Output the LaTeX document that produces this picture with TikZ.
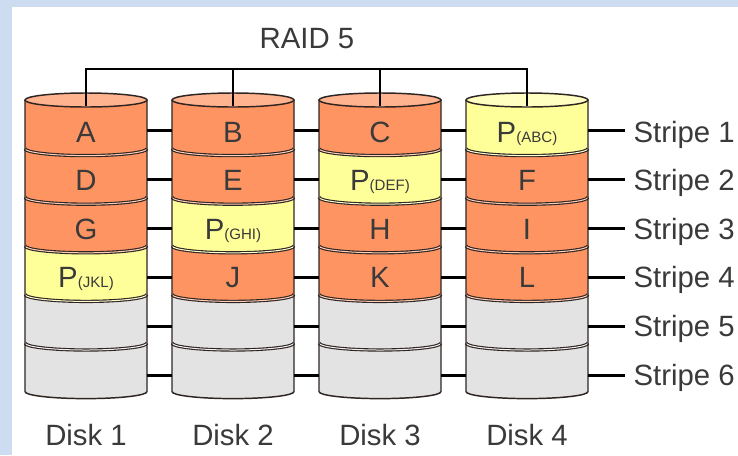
\documentclass[tikz,border=0pt]{standalone}
\usepackage{fontspec}
\setmainfont{Liberation Sans}

\definecolor{framebg}{HTML}{CDDCF1}
\definecolor{ink}{HTML}{3A3A3A}
\definecolor{edge}{HTML}{2E2522}
\definecolor{layo}{HTML}{FF9463}
\definecolor{topo}{HTML}{FFB38F}
\definecolor{layy}{HTML}{FFFF99}
\definecolor{topy}{HTML}{FFFFC2}
\definecolor{layg}{HTML}{E3E3E3}
\definecolor{topg}{HTML}{F0F0F0}

% smaller text used for the parity subscripts
\newcommand\parsub[1]{{\fontsize{11.3}{12}\selectfont #1}}

% one disk: #1 = centre x, #2..#7 = layer colour keys (o, y, g) from top to bottom
\newcommand\raiddisk[7]{%
  \foreach \k/\t in {0/#2,1/#3,2/#4,3/#5,4/#6,5/#7} {%
    \pgfmathsetmacro\yt{-100-48.6*\k}%
    \pgfmathsetmacro\yb{\yt-48.6}%
    \fill[lay\t] (#1-61,\yt) -- (#1-61,\yb)
      arc[start angle=180,end angle=360,x radius=61,y radius=7]
      -- (#1+61,\yt)
      arc[start angle=0,end angle=-180,x radius=61,y radius=7] -- cycle;
  }%
  % layer seams
  \foreach \k/\t in {1/#2,2/#3,3/#4,4/#5,5/#6} {%
    \pgfmathsetmacro\ys{-100-48.6*\k}%
    \draw[seam, double=white!55!lay\t] (#1-61,\ys)
      arc[start angle=180,end angle=360,x radius=61,y radius=7];
  }%
  % outline and top face
  \draw[diskline] (#1-61,-100) -- (#1-61,{-100-6*48.6})
    arc[start angle=180,end angle=360,x radius=61,y radius=7] -- (#1+61,-100);
  \filldraw[diskline, fill=top#2] (#1,-100) ellipse[x radius=61, y radius=7];
}

\tikzset{
  diskline/.style={draw=edge, line width=1.1pt},
  seam/.style={draw=edge, line width=0.85pt, double distance=0.75pt},
  wire/.style={draw=black, line width=1.6pt},
  lbl/.style={text=ink, font=\fontsize{22}{26}\selectfont, inner sep=0pt,
    text height=15.75pt, text depth=0pt},
  cell/.style={lbl, minimum width=91.5pt, minimum height=30pt},
  stripelbl/.style={lbl, anchor=west, inner xsep=6.2pt},
}

\begin{document}
\begin{tikzpicture}[x=0.75pt,y=0.75pt]
\useasboundingbox (0,0) rectangle (738,-455);
\fill[framebg] (0,0) rectangle (738,-455);
\fill[white] (12,-7) rectangle (738,-455);

% the four disks
\raiddisk{86}{o}{o}{o}{y}{g}{g}
\raiddisk{233}{o}{o}{y}{o}{g}{g}
\raiddisk{380}{o}{y}{o}{o}{g}{g}
\raiddisk{527}{y}{o}{o}{o}{g}{g}

% row heights of the six stripe connectors
\def\rows{1/130.5,2/179.5,3/228.5,4/277.5,5/326.5,6/375.5}

% block labels, one node per layer
\foreach \k/\txt in {1/A,2/D,3/G,4/{P\parsub{(JKL)}},5/{},6/{}}
  \node[cell] (L1\k) at (86,{-131.5-48.6*(\k-1)}) {\txt};
\foreach \k/\txt in {1/B,2/E,3/{P\parsub{(GHI)}},4/J,5/{},6/{}}
  \node[cell] (L2\k) at (233,{-131.5-48.6*(\k-1)}) {\txt};
\foreach \k/\txt in {1/C,2/{P\parsub{(DEF)}},3/H,4/K,5/{},6/{}}
  \node[cell] (L3\k) at (380,{-131.5-48.6*(\k-1)}) {\txt};
\foreach \k/\txt in {1/{P\parsub{(ABC)}},2/F,3/I,4/L,5/{},6/{}}
  \node[cell] (L4\k) at (527,{-131.5-48.6*(\k-1)}) {\txt};

% stripe labels
\foreach \k in {1,...,6}
  \node[stripelbl] (S\k) at (625,{-131.5-48.6*(\k-1)}) {Stripe \k};

% stripe connectors
\foreach \k/\y in \rows {
  \draw[wire] (L1\k.east |- 0,-\y) -- (L2\k.west |- 0,-\y);
  \draw[wire] (L2\k.east |- 0,-\y) -- (L3\k.west |- 0,-\y);
  \draw[wire] (L3\k.east |- 0,-\y) -- (L4\k.west |- 0,-\y);
  \draw[wire] (L4\k.east |- 0,-\y) -- (S\k.west |- 0,-\y);
}

% title and controller bus
\node[lbl] (raid) at (307,-37.5) {RAID 5};
\coordinate (bus) at (307,-69);
\foreach \d/\cx in {1/86,2/233,3/380,4/527}
  \coordinate (top\d) at (\cx,-106);
\draw[wire] (top1) -- (top1 |- bus) -- (top4 |- bus) -- (top4);
\draw[wire] (top2) -- (top2 |- bus);
\draw[wire] (top3) -- (top3 |- bus);

% disk names
\foreach \d/\cx in {1/86,2/233,3/380,4/527}
  \node[lbl] (D\d) at (\cx,-434.5) {Disk \d};
\end{tikzpicture}
\end{document}
